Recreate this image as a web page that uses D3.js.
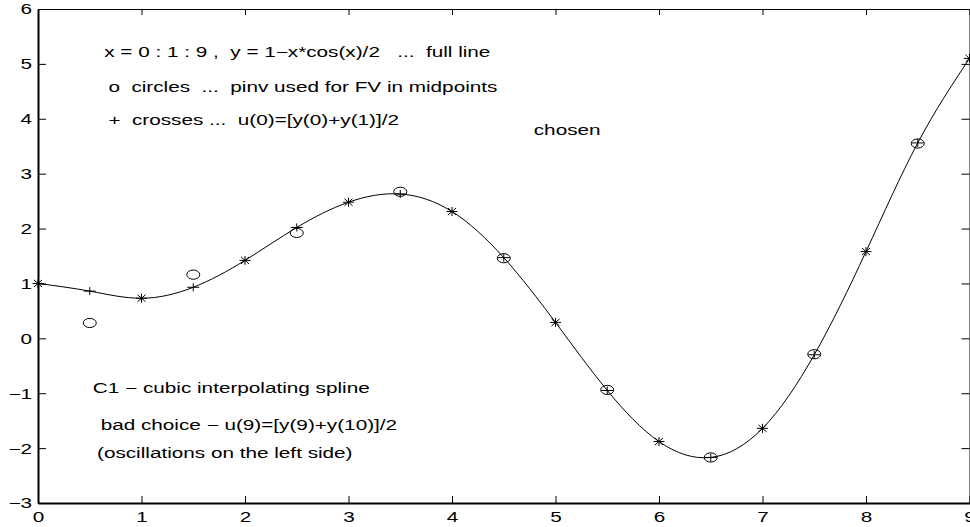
<!DOCTYPE html>
<html>
<head>
<meta charset="utf-8">
<script src="https://cdn.jsdelivr.net/npm/d3@7"></script>
<style>
  html, body { margin: 0; padding: 0; background: #fff; }
  svg { display: block; font-family: "Liberation Sans", Arial, sans-serif; }
  text { white-space: pre; }
</style>
</head>
<body>
<div id="chart"></div>
<script>
'use strict';
// values
var xNodes   = [0, 1, 2, 3, 4, 5, 6, 7, 8, 9],
    yNodes   = [1.00, 0.73, 1.42, 2.48, 2.31, 0.29, -1.88, -1.64, 1.58, 5.10],
    xMid     = [0.5, 1.5, 2.5, 3.5, 4.5, 5.5, 6.5, 7.5, 8.5],
    yCross   = [0.86, 0.93, 2.02, 2.63, 1.47, -0.95, -2.17, -0.30, 3.56],
    yCircle  = [0.28, 1.16, 1.92, 2.67, 1.46, -0.94, -2.17, -0.29, 3.55],
    xTicks   = [0, 1, 2, 3, 4, 5, 6, 7, 8, 9],
    yTicks   = [-3, -2, -1, 0, 1, 2, 3, 4, 5, 6];

var notes = [
  { x: 0.64, y: 5.22, t: 'x = 0 : 1 : 9 ,  y = 1\u2212x*cos(x)/2   ...  full line' },
  { x: 0.68, y: 4.58, t: 'o  circles  ...  pinv used for FV in midpoints' },
  { x: 0.68, y: 3.97, t: '+  crosses ...  u(0)=[y(0)+y(1)]/2' },
  { x: 4.79, y: 3.80, t: 'chosen' },
  { x: 0.53, y: -0.90, t: 'C1 \u2212 cubic interpolating spline' },
  { x: 0.55, y: -1.58, t: ' bad choice \u2212 u(9)=[y(9)+y(10)]/2' },
  { x: 0.57, y: -2.09, t: '(oscillations on the left side)' }
];

var width = 970, height = 527,
    mLeft = 38, mRight = 969.5, mTop = 9, mBottom = 503,
    stretch = 1.48, fontSize = 14;

var svg = d3.select('#chart').append('svg')
    .attr('width', width)
    .attr('height', height);

var x = d3.scaleLinear().domain([0, 9]).range([mLeft, mRight]),
    y = d3.scaleLinear().domain([-3, 6]).range([mBottom, mTop]);

// curve through nodes and midpoint values
var pts = [];
xNodes.forEach(function (d, i) {
    pts.push([d, yNodes[i]]);
    if (i < xMid.length) pts.push([xMid[i], yCross[i]]);
});

var line = d3.line()
    .x(function (d) { return x(d[0]); })
    .y(function (d) { return y(d[1]); })
    .curve(d3.curveNatural);

svg.append('path')
    .datum(pts)
    .attr('d', line)
    .attr('fill', 'none')
    .attr('stroke', '#000')
    .attr('stroke-width', 1);

// asterisks
var star = svg.append('g').attr('stroke', '#000').attr('stroke-width', 1);
xNodes.forEach(function (d, i) {
    var cx = x(d), cy = y(yNodes[i]);
    star.append('line').attr('x1', cx - 5.5).attr('x2', cx + 5.5).attr('y1', cy).attr('y2', cy);
    star.append('line').attr('x1', cx).attr('x2', cx).attr('y1', cy - 4.5).attr('y2', cy + 4.5);
    star.append('line').attr('x1', cx - 4).attr('x2', cx + 4).attr('y1', cy - 3.5).attr('y2', cy + 3.5);
    star.append('line').attr('x1', cx - 4).attr('x2', cx + 4).attr('y1', cy + 3.5).attr('y2', cy - 3.5);
});

// crosses
var plus = svg.append('g').attr('stroke', '#000').attr('stroke-width', 1);
xMid.forEach(function (d, i) {
    var cx = x(d), cy = y(yCross[i]);
    plus.append('line').attr('x1', cx - 6).attr('x2', cx + 6).attr('y1', cy).attr('y2', cy);
    plus.append('line').attr('x1', cx).attr('x2', cx).attr('y1', cy - 4).attr('y2', cy + 4);
});

// circles
svg.append('g').selectAll('ellipse')
    .data(xMid)
    .enter().append('ellipse')
    .attr('cx', function (d) { return x(d); })
    .attr('cy', function (d, i) { return y(yCircle[i]); })
    .attr('rx', 6.5)
    .attr('ry', 4.6)
    .attr('fill', 'none')
    .attr('stroke', '#000')
    .attr('stroke-width', 1);

// axes box
var minus = function (d) { return d < 0 ? '\u2212' + Math.abs(d) : String(d); };
var axisBottom = d3.axisBottom(x).tickValues(xTicks).tickSize(-7).tickSizeOuter(0).tickFormat(d3.format('d')),
    axisTop    = d3.axisTop(x).tickValues(xTicks).tickSize(-6).tickSizeOuter(0).tickFormat(''),
    axisLeft   = d3.axisLeft(y).tickValues(yTicks).tickSize(-8).tickSizeOuter(0).tickFormat(minus),
    axisRight  = d3.axisRight(y).tickValues(yTicks).tickSize(-8).tickSizeOuter(0).tickFormat('');

function style(g, w) {
    g.select('.domain').attr('stroke', '#000').attr('stroke-width', w);
    g.selectAll('.tick line').attr('stroke', '#000').attr('stroke-width', 1);
    g.selectAll('.tick text').attr('fill', '#000').attr('font-size', fontSize)
        .attr('font-family', '"Liberation Sans", Arial, sans-serif');
}

svg.append('g').attr('transform', 'translate(0,' + mTop + ')').call(axisTop).call(style, 1);
svg.append('g').attr('transform', 'translate(' + mRight + ',0)').call(axisRight).call(style, 1);

svg.append('g').attr('transform', 'translate(0,' + mBottom + ')').call(axisBottom).call(style, 2)
    .selectAll('.tick text')
    .attr('x', 0).attr('y', 0).attr('dy', '0.71em')
    .attr('transform', 'translate(0,9) scale(' + stretch + ',1)');

svg.append('g').attr('transform', 'translate(' + mLeft + ',0)').call(axisLeft).call(style, 2)
    .selectAll('.tick text')
    .attr('x', 0).attr('dy', '0.35em')
    .attr('transform', 'translate(-6,0) scale(' + stretch + ',1)');

// notes
svg.append('g').selectAll('text')
    .data(notes)
    .enter().append('text')
    .attr('transform', function (d) {
        return 'translate(' + x(d.x) + ',' + y(d.y) + ') scale(' + stretch + ',1)';
    })
    .attr('dy', '0.35em')
    .attr('font-size', fontSize)
    .attr('fill', '#000')
    .text(function (d) { return d.t; });
</script>
</body>
</html>
